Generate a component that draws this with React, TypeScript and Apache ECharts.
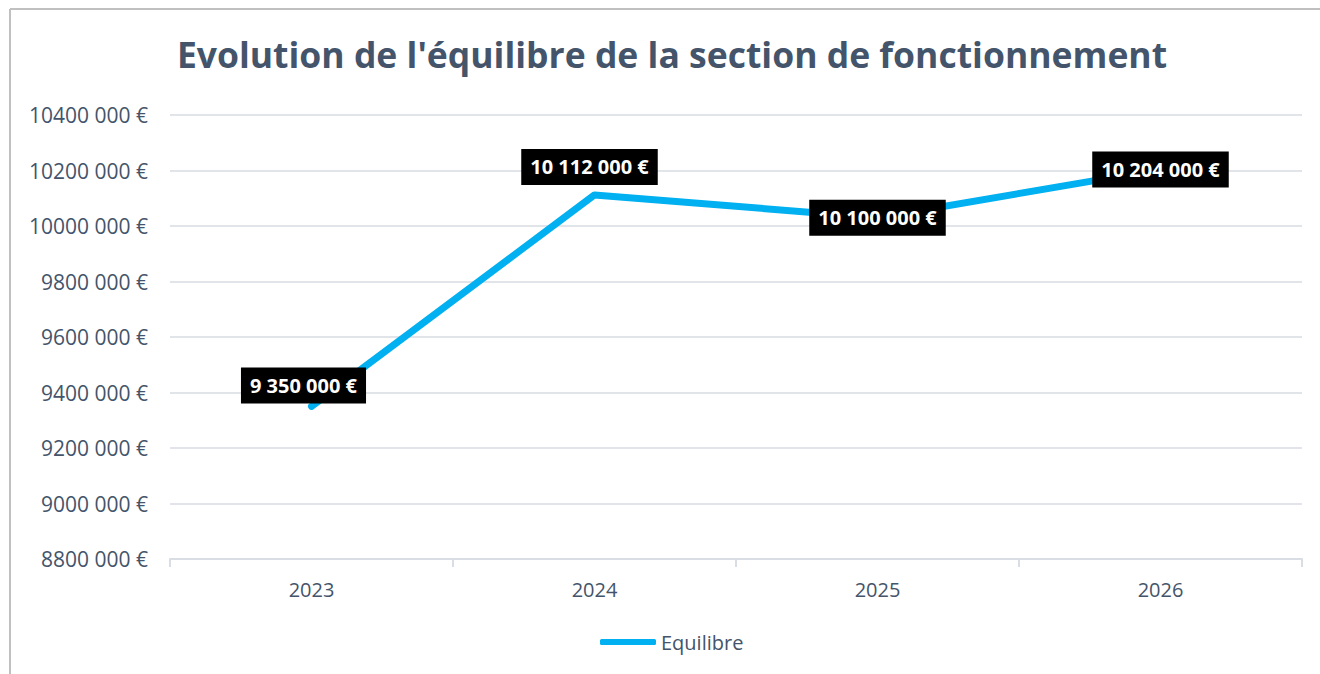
import React, { useEffect, useRef } from "react";
import * as echarts from "echarts";

const categories = ["2023", "2024", "2025", "2026"];
const values = [9350000, 10112000, 10030000, 10204000];
const labelTexts = ["9 350 000 €", "10 112 000 €", "10 100 000 €", "10 204 000 €"];
const labelOffsets = [[-8, -21], [-5, -28], [0, 0], [0, 0]];
const yMin = 8800000;
const yMax = 10400000;
const yStep = 200000;
const titleText = "Evolution de l'équilibre de la section de fonctionnement";
const seriesName = "Equilibre";

const FONT = "'Open Sans', sans-serif";
const TXT = "#44546a";
const BORDER = "#c0c0c0";

export default function App() {
  const ref = useRef<HTMLDivElement>(null);
  useEffect(() => {
    document.body.style.margin = "0";
    document.body.style.overflow = "hidden";
    if (!ref.current) return;
    const chart = echarts.init(ref.current, null, { renderer: "svg" });
    chart.setOption({
      animation: false,
      backgroundColor: "#ffffff",
      graphic: [
        {
          type: "line",
          shape: { x1: 10, y1: 9, x2: 1320, y2: 9 },
          style: { stroke: BORDER, lineWidth: 2 },
          silent: true,
        },
        {
          type: "line",
          shape: { x1: 10, y1: 9, x2: 10, y2: 674 },
          style: { stroke: BORDER, lineWidth: 2 },
          silent: true,
        },
        {
          type: "text",
          x: 672,
          y: 36,
          style: {
            text: titleText,
            textAlign: "center",
            textVerticalAlign: "top",
            fontFamily: FONT,
            fontWeight: "bold",
            fontSize: 35.5,
            fill: TXT,
          },
          silent: true,
        },
      ],
      legend: {
        data: [{ name: seriesName, icon: "roundRect" }],
        left: 595,
        top: 627,
        itemWidth: 56,
        itemHeight: 6,
        itemGap: 3,
        textStyle: { fontFamily: FONT, fontSize: 20, color: TXT },
      },
      grid: { left: 170, right: 18, top: 115, bottom: 115, containLabel: false },
      xAxis: {
        type: "category",
        data: categories,
        boundaryGap: true,
        axisLine: { lineStyle: { color: "#d9dde4", width: 2 } },
        axisTick: { show: true, length: 8, lineStyle: { color: "#d9dde4", width: 2 } },
        axisLabel: { fontFamily: FONT, fontSize: 20, color: TXT, margin: 20 },
      },
      yAxis: {
        type: "value",
        min: yMin,
        max: yMax,
        interval: yStep,
        axisLine: { show: false },
        axisTick: { show: false },
        splitLine: { lineStyle: { color: "#e1e5ea", width: 2 } },
        axisLabel: {
          fontFamily: FONT,
          fontSize: 21,
          color: TXT,
          margin: 22,
          formatter: (v: number) => `${v / 1000} 000 €`,
        },
      },
      series: [
        {
          name: seriesName,
          type: "line",
          symbol: "circle",
          symbolSize: 1,
          itemStyle: { color: "#00b0f0" },
          lineStyle: { color: "#00b0f0", width: 7, cap: "round", join: "round" },
          data: values.map((v, i) => ({
            value: v,
            label: {
              show: true,
              position: "inside",
              offset: labelOffsets[i],
              formatter: () => labelTexts[i],
              backgroundColor: "#000000",
              color: "#ffffff",
              fontFamily: FONT,
              fontWeight: "bold",
              fontSize: 20,
              padding: [8, 9],
            },
          })),
        },
      ],
    });
    return () => chart.dispose();
  }, []);
  return <div ref={ref} style={{ width: 1320, height: 674 }} />;
}
